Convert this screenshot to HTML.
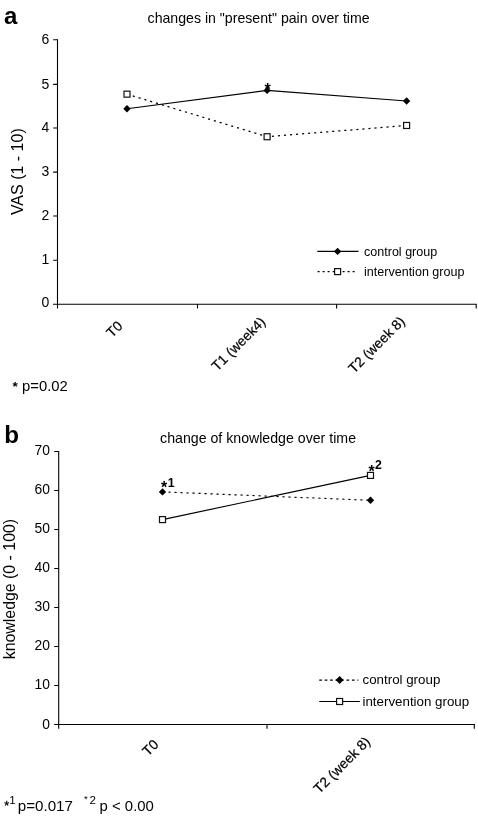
<!DOCTYPE html>
<html><head><meta charset="utf-8"><title>Figure</title>
<style>
html,body{margin:0;padding:0;background:#fff;}
svg{display:block;font-family:"Liberation Sans",Arial,Helvetica,sans-serif;fill:#000;}
.ax{stroke:#000;stroke-width:1.1;fill:none;}
.ln{stroke:#000;stroke-width:1.15;fill:none;}
.dt{stroke:#000;stroke-width:1.25;fill:none;stroke-dasharray:2.1 3.95;}
.dt2{stroke:#000;stroke-width:1.15;fill:none;stroke-dasharray:2.2 3.8;}
.sq{fill:#fff;stroke:#111;stroke-width:1.2;}
.dm{fill:#000;stroke:none;}
.tk{font-size:14.4px;text-anchor:end;}
.ti{font-size:14.05px;text-anchor:middle;}
.lg{font-size:12.55px;}
.lg2{font-size:13.33px;}
.dt4{stroke:#000;stroke-width:1.3;fill:none;stroke-dasharray:2 3;}
.dt3{stroke:#000;stroke-width:1.05;fill:none;stroke-dasharray:2.7 2.75;}
.xl{font-size:13.85px;text-anchor:end;stroke:#000;stroke-width:0.22px;}
.yl{font-size:14.5px;text-anchor:middle;}
.pl{font-size:24px;font-weight:bold;}
.fn{font-size:14px;}
.st{font-size:16px;font-weight:bold;}
.sp{font-size:12.3px;font-weight:bold;}
</style></head>
<body>
<svg width="478" height="816" viewBox="0 0 478 816">
<rect width="478" height="816" fill="#fff"/>

<!-- panel a -->
<text class="pl" x="4.1" y="23.8">a</text>
<text class="ti" x="258.6" y="22.8" style="font-size:14.13px">changes in "present" pain over time</text>
<g class="ax">
<path d="M57.5 39.3V304.8"/>
<path d="M53 304.3H476.7"/>
<path d="M53.2 260.3H57.5M53.2 216H57.5M53.2 172.1H57.5M53.2 128H57.5M53.2 84.4H57.5M53.2 39.8H57.5"/>
<path d="M57.5 304.3V308.5M197.5 304.3V308.5M336.6 304.3V308.5M476.2 304.3V308.5"/>
</g>
<g class="tk">
<text transform="translate(49.2 307.3) scale(0.965 1)" style="font-size:14.5px">0</text>
<text transform="translate(49.2 263.6) scale(0.965 1)" style="font-size:14.5px">1</text>
<text transform="translate(49.2 220.4) scale(0.965 1)" style="font-size:14.5px">2</text>
<text transform="translate(49.2 176.3) scale(0.965 1)" style="font-size:14.5px">3</text>
<text transform="translate(49.2 132.2) scale(0.965 1)" style="font-size:14.5px">4</text>
<text transform="translate(49.2 88.5) scale(0.965 1)" style="font-size:14.5px">5</text>
<text transform="translate(49.2 44) scale(0.965 1)" style="font-size:14.5px">6</text>
</g>
<text class="yl" style="font-size:16px" transform="translate(23.2 171.7) rotate(-90)">VAS (1 - 10)</text>
<path class="ln" d="M127 108.72L267.1 90.42L406.6 101"/>
<path class="dt" d="M127 94.16L267.1 136.72L406.6 125.47"/>
<g class="dm"><path d="M127 105.02l3.7 3.7l-3.7 3.7l-3.7 -3.7z"/><path d="M267.1 86.72l3.7 3.7l-3.7 3.7l-3.7 -3.7z"/><path d="M406.6 97.3l3.7 3.7l-3.7 3.7l-3.7 -3.7z"/></g>
<g class="sq"><rect x="124" y="91.16" width="6" height="6"/><rect x="264.1" y="133.72" width="6" height="6"/><rect x="403.6" y="122.47" width="6" height="6"/></g>
<text class="st" x="267.7" y="94.82" text-anchor="middle">*</text>
<path class="ln" d="M317.3 251.4H358.5"/>
<g class="dm"><path d="M337.6 247.7l3.7 3.7l-3.7 3.7l-3.7 -3.7z"/></g>
<text class="lg" x="364" y="255.6">control group</text>
<path class="dt4" d="M317.6 271.6H357"/>
<g class="sq"><rect x="334.6" y="268.6" width="6" height="6"/></g>
<text class="lg" x="364" y="275.7">intervention group</text>
<text class="xl" transform="translate(123.5 326.9) rotate(-45)">T0</text>
<text class="xl" transform="translate(266.3 322.8) rotate(-45)">T1 (week4)</text>
<text class="xl" transform="translate(405.8 322.3) rotate(-45)">T2 (week 8)</text>
<text class="fn" x="12" y="391" style="font-size:14.8px"><tspan font-weight="bold" font-size="13.5" dx="0.4">*</tspan><tspan dx="0.3"> p=0.02</tspan></text>
<!-- panel b -->
<text class="pl" x="4.3" y="443.2" style="font-size:24.2px">b</text>
<text class="ti" x="258.05" y="442.5" style="font-size:14.16px">change of knowledge over time</text>
<g class="ax">
<path d="M58.7 451V725"/>
<path d="M54.2 724.5H474.8"/>
<path d="M54.2 685.5H58.7M54.2 646.5H58.7M54.2 607.5H58.7M54.2 568.5H58.7M54.2 529.5H58.7M54.2 490.5H58.7M54.2 451.5H58.7"/>
<path d="M58.7 724.5V728.8M267 724.5V728.8M474.3 724.5V728.8"/>
</g>
<g class="tk">
<text transform="translate(50 728.6) scale(0.935 1)" style="font-size:14.85px">0</text>
<text transform="translate(50 689.1) scale(0.935 1)" style="font-size:14.85px">10</text>
<text transform="translate(50 650.1) scale(0.935 1)" style="font-size:14.85px">20</text>
<text transform="translate(50 611.1) scale(0.935 1)" style="font-size:14.85px">30</text>
<text transform="translate(50 572.1) scale(0.935 1)" style="font-size:14.85px">40</text>
<text transform="translate(50 533.1) scale(0.935 1)" style="font-size:14.85px">50</text>
<text transform="translate(50 494.1) scale(0.935 1)" style="font-size:14.85px">60</text>
<text transform="translate(50 455.1) scale(0.935 1)" style="font-size:14.85px">70</text>
</g>
<text class="yl" style="font-size:15.9px" transform="translate(15.2 589.1) rotate(-90)">knowledge (0 - 100)</text>
<path class="dt2" d="M162.5 491.9L370.5 500.29"/>
<path class="ln" d="M162.5 519.59L370.5 475.41"/>
<g class="dm"><path d="M162.5 488.2l3.7 3.7l-3.7 3.7l-3.7 -3.7z"/><path d="M370.5 496.59l3.7 3.7l-3.7 3.7l-3.7 -3.7z"/></g>
<g class="sq"><rect x="159.5" y="516.59" width="6" height="6"/><rect x="367.5" y="472.41" width="6" height="6"/></g>
<text class="st" x="161.1" y="493.4">*</text>
<text class="sp" x="167.8" y="486.6">1</text>
<text class="st" x="368.4" y="476.6">*</text>
<text class="sp" x="375" y="469.4">2</text>
<path class="dt3" d="M319.2 680.1H358.3"/>
<g class="dm"><path d="M339.6 676.1l4 4l-4 4l-4 -4z"/></g>
<text class="lg2" x="362.5" y="684.0">control group</text>
<path class="ln" d="M319.2 701.5H359.8"/>
<g class="sq"><rect x="336.6" y="698.5" width="6" height="6"/></g>
<text class="lg2" x="362.5" y="705.8">intervention group</text>
<text class="xl" transform="translate(159.5 745.3) rotate(-45)">T0</text>
<text class="xl" transform="translate(371 742.6) rotate(-45)">T2 (week 8)</text>
<text x="4.3" y="809.7" font-size="12.5" stroke="#000" stroke-width="0.3">*</text>
<text x="9.3" y="804.1" font-size="11.6">1</text>
<text x="17.8" y="811.2" font-size="15.15">p=0.017</text>
<text x="84.1" y="802.4" font-size="9.5">*</text>
<text x="89.4" y="803.7" font-size="11.6">2</text>
<text x="99.6" y="811.2" font-size="14.9">p &lt; 0.00</text>
</svg>
</body></html>
